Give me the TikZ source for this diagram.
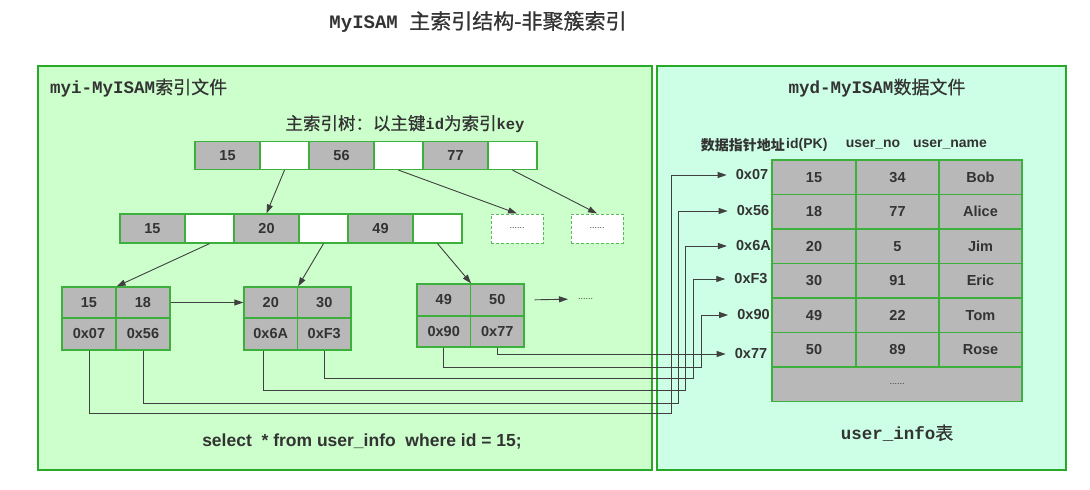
\documentclass[tikz,border=0pt]{standalone}
\usepackage{fontspec}
\setmainfont{Liberation Sans}
\newfontfamily\cjk{Noto Sans CJK SC}
\newfontfamily\cjkm[FakeBold=0.6]{Noto Sans CJK SC}
\newfontfamily\mono{Liberation Mono}
\usetikzlibrary{arrows.meta}
\definecolor{leftfill}{RGB}{204,255,204}
\definecolor{rightfill}{RGB}{204,255,230}
\definecolor{panelgreen}{RGB}{40,170,40}
\definecolor{cellgreen}{RGB}{60,175,60}
\definecolor{cellgray}{RGB}{184,184,184}
\definecolor{txt}{RGB}{51,51,51}
\definecolor{ln}{RGB}{64,64,64}
\newcommand{\fs}[1]{\fontsize{#1}{#1}\selectfont}
\begin{document}
\begin{tikzpicture}[x=1pt,y=-1pt,
  gcell/.style={draw=cellgreen, line width=1.2pt, fill=cellgray, inner sep=0pt, text=txt, font=\bfseries\fs{14.5}},
  wcell/.style={draw=cellgreen, line width=1.2pt, fill=white, inner sep=0pt},
  dbox/.style={draw=cellgreen!85, line width=1pt, dash pattern=on 3pt off 2pt, fill=white, inner sep=0pt, minimum width=52pt, minimum height=29pt, font=\fs{9}, text=txt},
  addr/.style={inner sep=0pt, text=txt, font=\bfseries\fs{14.5}},
  lbl/.style={inner sep=0pt, text=txt},
  arr/.style={draw=ln, line width=0.9pt, -{Triangle[length=9pt,width=6pt]}},
  ptr/.style={draw=ln, line width=0.9pt, -{Triangle[length=9pt,width=6pt]}, shorten >=9pt},
]
\useasboundingbox (0,0) rectangle (1090,490);
\fill[white] (0,0) rectangle (1090,490);
% panels
\draw[panelgreen, line width=2pt, fill=leftfill] (38,66) rectangle (652,470);
\draw[panelgreen, line width=2pt, fill=rightfill] (657,66) rectangle (1066,470);

% titles
\node[lbl] (title) at (478,22) {{\mono\bfseries\fs{19}MyISAM }{\cjkm\fs{21}主索引结构-非聚簇索引}};
\node[lbl, anchor=west] (ltitle) at (50,88) {{\mono\bfseries\fs{17.5}myi-MyISAM}{\cjkm\fs{18}索引文件}};
\node[lbl] (ttitle) at (405,124) {{\cjkm\fs{17.5}主索引树：以主键}{\mono\bfseries\fs{15.5}id}{\cjkm\fs{17.5}为索引}{\mono\bfseries\fs{15.5}key}};
\node[lbl] (rtitle) at (877,88) {{\mono\bfseries\fs{17.5}myd-MyISAM}{\cjkm\fs{18}数据文件}};

% root node
\foreach \nm/\cx/\t in {r15/227.5/15, r56/341.5/56, r77/455.5/77}
  \node[gcell, minimum width=65pt, minimum height=28pt] (\nm) at (\cx,155.5) {\t};
\foreach \nm/\cx in {rw1/284.5, rw2/398.5, rw3/512.5}
  \node[wcell, minimum width=49pt, minimum height=28pt] (\nm) at (\cx,155.5) {};

% second level
\foreach \nm/\cx/\t in {s15/152.5/15, s20/266.5/20, s49/380.5/49}
  \node[gcell, minimum width=65pt, minimum height=29pt] (\nm) at (\cx,228.5) {\t};
\foreach \nm/\cx in {sw1/209.5, sw2/323.5, sw3/437.5}
  \node[wcell, minimum width=49pt, minimum height=29pt] (\nm) at (\cx,228.5) {};

\node[dbox] (d1) at (517,228.5) {......};
\node[dbox] (d2) at (597,228.5) {......};

% leaves
\node[gcell, minimum width=54pt, minimum height=31pt] (l1a) at (89,302.5) {15};
\node[gcell, minimum width=54pt, minimum height=31pt] (l1b) at (143,302.5) {18};
\node[gcell, minimum width=54pt, minimum height=32pt] (c07) at (89,334) {0x07};
\node[gcell, minimum width=54pt, minimum height=32pt] (c56) at (143,334) {0x56};

\node[gcell, minimum width=53.5pt, minimum height=31pt] (l2a) at (270.75,302.5) {20};
\node[gcell, minimum width=53.5pt, minimum height=31pt] (l2b) at (324.25,302.5) {30};
\node[gcell, minimum width=53.5pt, minimum height=32pt] (c6a) at (270.75,334) {0x6A};
\node[gcell, minimum width=53.5pt, minimum height=32pt] (cf3) at (324.25,334) {0xF3};

\node[gcell, minimum width=53.5pt, minimum height=32pt] (l3a) at (443.75,300) {49};
\node[gcell, minimum width=53.5pt, minimum height=32pt] (l3b) at (497.25,300) {50};
\node[gcell, minimum width=53.5pt, minimum height=31pt] (c90) at (443.75,331.5) {0x90};
\node[gcell, minimum width=53.5pt, minimum height=31pt] (c77) at (497.25,331.5) {0x77};

\node[lbl, anchor=west, font=\fs{9}] (ldots) at (578,299) {......};

% tree arrows
\draw[arr] (rw1.south) -- (s20.north);
\draw[arr] (rw2.south) -- (d1.north);
\draw[arr] (rw3.south) -- (d2.north);
\draw[arr] (sw1.south) -- (l1a.north east);
\draw[arr] (sw2.south) -- (l2a.north east);
\draw[arr] (sw3.south) -- (l3a.north east);
\draw[arr] (l1b.east) -- (l2a.west);
\draw[arr, shorten <=10pt, shorten >=10pt] (l3b.east) -- (ldots.west);

% table header
\node[lbl, anchor=east, font=\cjk\bfseries\fs{14}] (h1) at (785,145) {数据指针地址};
\node[lbl, anchor=west, font=\bfseries\fs{14}] (h2) at (786,145) {id(PK)};
\node[lbl, font=\bfseries\fs{14}] (h3) at (873,145) {user\_no};
\node[lbl, font=\bfseries\fs{14}] (h4) at (950,145) {user\_name};

% table
\foreach \ra/\rb/\rc [count=\i] in {15/34/Bob, 18/77/Alice, 20/5/Jim, 30/91/Eric, 49/22/Tom, 50/89/Rose} {
  \pgfmathsetmacro\yy{177.25+34.5*(\i-1)}
  \node[gcell, minimum width=84pt, minimum height=34.5pt] (t\i a) at (814,\yy) {\ra};
  \node[gcell, minimum width=83pt, minimum height=34.5pt] (t\i b) at (897.5,\yy) {\rb};
  \node[gcell, minimum width=83pt, minimum height=34.5pt] (t\i c) at (980.5,\yy) {\rc};
}
\node[gcell, minimum width=250pt, minimum height=34.5pt, font=\fs{9}] (tdots) at (897,384.25) {......};

% address labels
\node[addr] (a07) at (752,175) {0x07};
\node[addr] (a56) at (753,211) {0x56};
\node[addr] (a6a) at (753.5,246) {0x6A};
\node[addr] (af3) at (751,279) {0xF3};
\node[addr] (a90) at (753.5,315) {0x90};
\node[addr] (a77) at (751,354) {0x77};

% pointer routing coordinates
\coordinate (v07) at (671,413);
\coordinate (v56) at (678,403);
\coordinate (v6a) at (685,390);
\coordinate (vf3) at (693,378);
\coordinate (v90) at (701,367);

\draw[ptr] (c07.south) |- (v07) |- (a07.west);
\draw[ptr] (c56.south) |- (v56) |- (a56.west);
\draw[ptr] ([xshift=-7pt]c6a.south) |- (v6a) |- (a6a.west);
\draw[ptr] (cf3.south) |- (vf3) |- (af3.west);
\draw[ptr] (c90.south) |- (v90) |- (a90.west);
\draw[ptr] (c77.south) |- (a77.west);

% bottom texts
\node[lbl, font=\bfseries\fs{17.5}] (sql) at (362,442) {select\ \ * from user\_info\ \ where id = 15;};
\node[lbl] (tname) at (897,433) {{\mono\bfseries\fs{17.5}user\_info}{\cjkm\fs{18}表}};
\end{tikzpicture}
\end{document}
